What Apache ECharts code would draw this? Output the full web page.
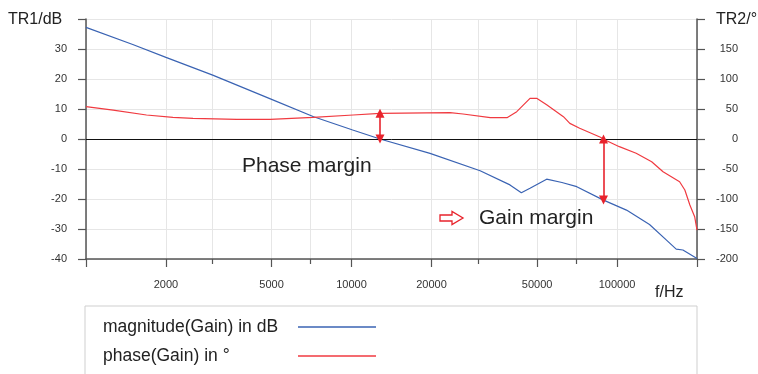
<!DOCTYPE html>
<html>
<head>
<meta charset="utf-8">
<script src="https://cdn.jsdelivr.net/npm/echarts@6/dist/echarts.min.js"></script>
<style>
  html, body { margin: 0; padding: 0; background: #fff; }
  #chart { width: 758px; height: 374px; }
</style>
</head>
<body>
<div id="chart"></div>
<script>
// Bode plot of the loop gain: magnitude (dB, left axis) and phase (deg, right axis)

// Magnitude trace
const magFreq = [1000, 1500, 2000, 3000, 5000, 7200, 10100, 12800, 19750, 30500, 39500, 43600, 47000, 54300, 62000, 70500, 88500, 108500, 132500, 153500, 167000, 177000, 200000];
const magDb   = [37.2, 31.5, 27.2, 21.3, 13.2, 7.4, 3.0, 0.0, -4.8, -10.6, -15.3, -17.9, -16.4, -13.4, -14.5, -15.9, -20.3, -23.7, -28.5, -33.7, -36.7, -37.0, -39.8];

// Phase trace
const phaseFreq = [1000, 1265, 1690, 2125, 2530, 3700, 4940, 7170, 10140, 12800, 23500, 26300, 33300, 38500, 41900, 47000, 49800, 54300, 62800, 66400, 72300, 86600, 88900, 102000, 118000, 135000, 149000, 172000, 180000, 188000, 196000, 200000];
const phaseDeg  = [54, 48, 40, 36, 34.4, 32.8, 32.8, 36, 40, 42.8, 43.8, 41.7, 35.5, 35.5, 45.5, 67.8, 67.8, 57, 37.2, 26, 17.8, 2.8, -0.5, -12.8, -23.8, -37.8, -54.5, -71.2, -85, -110, -129.5, -152];

// Stability margins
const gainCrossFreq = 12800;   // |G| = 0 dB
const phaseMarginDeg = 42.8;
const phaseCrossFreq = 88900;  // phase = 0 deg
const gainMarginDb = -20.3;

// Axis ticks
const xMajorTicks = [1000, 2000, 5000, 10000, 20000, 50000, 100000, 200000];
const xMinorTicks = [3000, 7000, 30000, 70000];
const xLabelTicks = [2000, 5000, 10000, 20000, 50000, 100000];

const magName = 'magnitude(Gain) in dB';
const phaseName = 'phase(Gain) in °';

const FONT = '"Liberation Sans", Arial, sans-serif';
const BLUE = '#3a63b3';
const RED = '#f03a40';
const ARROW = '#e8232c';
const AXIS = '#555';
const GRID = '#e6e6e6';

const chart = echarts.init(document.getElementById('chart'));

const baseX = {
  type: 'log', logBase: 10, min: 1000, max: 200000, gridIndex: 0, position: 'bottom'
};

chart.setOption({
  animation: false,
  backgroundColor: '#fff',
  textStyle: { fontFamily: FONT },
  grid: { left: 86, right: 61, top: 19, bottom: 115, containLabel: false },
  xAxis: [
    Object.assign({}, baseX, {
      axisLine: { show: true, onZero: false, lineStyle: { color: AXIS, width: 1.5 } },
      axisTick: { show: true, length: 8, customValues: xMajorTicks, lineStyle: { color: AXIS, width: 1.2 } },
      axisLabel: {
        show: true, customValues: xLabelTicks, margin: 20, fontSize: 11, color: '#333',
        fontFamily: FONT, formatter: v => String(Math.round(v))
      },
      splitLine: { show: true, lineStyle: { color: GRID, width: 1 } },
      minorTick: { show: false }
    }),
    Object.assign({}, baseX, {
      axisLine: { show: false, onZero: false },
      axisTick: { show: true, length: 5, customValues: xMinorTicks, lineStyle: { color: AXIS, width: 1.2 } },
      axisLabel: { show: false },
      splitLine: { show: true, lineStyle: { color: GRID, width: 1 } }
    })
  ],
  yAxis: [
    {
      type: 'value', min: -40, max: 40, interval: 10, position: 'left',
      axisLine: { show: true, onZero: false, lineStyle: { color: AXIS, width: 1.5 } },
      axisTick: { show: true, length: 8, lineStyle: { color: AXIS, width: 1.2 } },
      axisLabel: {
        margin: 19, fontSize: 11, color: '#333', fontFamily: FONT,
        formatter: v => (v === 40 ? '' : String(v))
      },
      splitLine: { show: true, lineStyle: { color: GRID, width: 1 } }
    },
    {
      type: 'value', min: -200, max: 200, interval: 50, position: 'right',
      axisLine: { show: true, onZero: false, lineStyle: { color: AXIS, width: 1.5 } },
      axisTick: { show: true, length: 8, lineStyle: { color: AXIS, width: 1.2 } },
      axisLabel: {
        margin: 41, align: 'right', fontSize: 11, color: '#333', fontFamily: FONT,
        formatter: v => (v === 200 ? '' : String(v))
      },
      splitLine: { show: false }
    }
  ],
  legend: {
    orient: 'vertical', left: 85, top: 306, height: 60, align: 'right',
    icon: 'rect', itemWidth: 78, itemHeight: 1.5, itemGap: 11,
    padding: [12, 321, 20, 18],
    borderColor: '#cfcfcf', borderWidth: 1, borderRadius: 0, backgroundColor: '#fff',
    selectedMode: false,
    data: [magName, phaseName],
    formatter: n => '{a|' + n + '}',
    textStyle: {
      rich: { a: { width: 190, align: 'left', fontSize: 17.5, lineHeight: 18, color: '#222', fontFamily: FONT } }
    }
  },
  series: [
    {
      name: magName, type: 'line', xAxisIndex: 0, yAxisIndex: 0,
      data: magFreq.map((f, i) => [f, magDb[i]]),
      showSymbol: false, symbol: 'none', smooth: false,
      lineStyle: { color: BLUE, width: 1.2 }, itemStyle: { color: BLUE },
      z: 3,
      markLine: {
        silent: true, animation: false,
        label: { show: false },
        symbol: ['none', 'none'],
        data: [
          { yAxis: 0, symbol: 'none', lineStyle: { color: '#111', width: 1, type: 'solid' } },
          [
            { coord: [phaseCrossFreq, 0], symbol: 'triangle', symbolSize: [9, 9] },
            { coord: [phaseCrossFreq, gainMarginDb], symbol: 'triangle', symbolSize: [9, 9],
              lineStyle: { color: ARROW, width: 1.6, type: 'solid' } }
          ]
        ],
        lineStyle: { color: ARROW, width: 1.6, type: 'solid' }
      }
    },
    {
      name: phaseName, type: 'line', xAxisIndex: 0, yAxisIndex: 1,
      data: phaseFreq.map((f, i) => [f, phaseDeg[i]]),
      showSymbol: false, symbol: 'none', smooth: false,
      lineStyle: { color: RED, width: 1.2 }, itemStyle: { color: RED },
      z: 3,
      markLine: {
        silent: true, animation: false,
        label: { show: false },
        symbol: ['triangle', 'triangle'],
        symbolSize: [9, 9],
        lineStyle: { color: ARROW, width: 1.6, type: 'solid' },
        data: [
          [ { coord: [gainCrossFreq, 0] }, { coord: [gainCrossFreq, phaseMarginDeg] } ]
        ]
      }
    }
  ],
  graphic: [
    { type: 'text', x: 8, y: 20, silent: true, z: 100,
      style: { text: 'TR1/dB', fontSize: 16, fontFamily: FONT, fill: '#222', verticalAlign: 'middle' } },
    { type: 'text', x: 716, y: 20, silent: true, z: 100,
      style: { text: 'TR2/°', fontSize: 16, fontFamily: FONT, fill: '#222', verticalAlign: 'middle' } },
    { type: 'text', x: 655, y: 293, silent: true, z: 100,
      style: { text: 'f/Hz', fontSize: 16, fontFamily: FONT, fill: '#222', verticalAlign: 'middle' } },
    { type: 'text', x: 242, y: 166, silent: true, z: 100,
      style: { text: 'Phase margin', fontSize: 21, fontFamily: FONT, fill: '#222', verticalAlign: 'middle' } },
    { type: 'text', x: 479, y: 218, silent: true, z: 100,
      style: { text: 'Gain margin', fontSize: 21, fontFamily: FONT, fill: '#222', verticalAlign: 'middle' } },
    { type: 'polygon', silent: true, z: 100,
      shape: { points: [[440, 215], [452, 215], [452, 211.5], [463, 218], [452, 224.5], [452, 221], [440, 221]] },
      style: { fill: '#fff', stroke: ARROW, lineWidth: 1.3 } }
  ]
});
</script>
</body>
</html>
